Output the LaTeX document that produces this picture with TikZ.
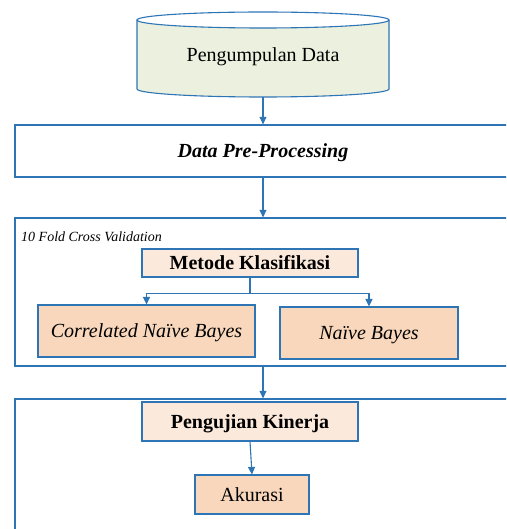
\documentclass[tikz,border=0pt]{standalone}
\usepackage{fontspec}
\setmainfont{Liberation Serif}
\usetikzlibrary{arrows.meta}
\definecolor{lineblue}{HTML}{2E75B6}
\definecolor{cylfill}{HTML}{EBF1DE}
\definecolor{lightpeach}{HTML}{FBE9DB}
\definecolor{peach}{HTML}{F8D7BC}
\tikzset{
  frame/.style={draw=lineblue, line width=1.3pt, minimum width=496pt, inner sep=0pt},
  lightbox/.style={draw=lineblue, line width=1.1pt, fill=lightpeach, inner sep=0pt},
  darkbox/.style={draw=lineblue, line width=1.1pt, fill=peach, inner sep=0pt},
  conn/.style={draw=lineblue, line width=1.1pt, -{Triangle[width=7pt,length=7.5pt]}},
  big/.style={font=\fontsize{20}{24}\selectfont, text height=13pt, text depth=0pt},
}
\begin{document}
\begin{tikzpicture}[x=1pt,y=-1pt]
\useasboundingbox (0,0) rectangle (506,529);
\clip (0,0) rectangle (506,529);
% cylinder
\fill[cylfill] (137,20) -- (137,89) arc[start angle=180,end angle=360,x radius=126,y radius=-8] -- (389,20) arc[start angle=0,end angle=180,x radius=126,y radius=8] -- cycle;
\draw[lineblue, line width=1.1pt] (137,20) -- (137,89) arc[start angle=180,end angle=360,x radius=126,y radius=-8] -- (389,20);
\draw[lineblue, line width=1.1pt] (263,20) ellipse[x radius=126, y radius=8];
\node[big, minimum width=252pt, minimum height=85pt, inner sep=0pt, yshift=-0.5pt] (dbtext) at (263,54.5) {Pengumpulan Data};
\node[minimum width=252pt, minimum height=85pt, inner sep=0pt] (db) at (263,54.5) {};
% frames
\node[frame, minimum height=52pt, big, font=\fontsize{20}{24}\selectfont\bfseries\itshape] (pre) at (263,151) {Data Pre-Processing};
\node[frame, minimum height=148pt] (cv) at (263,292) {};
\node[frame, minimum height=141pt] (test) at (263,469.5) {};
\node[anchor=west, inner sep=0pt, font=\fontsize{14}{16}\selectfont\itshape] (cvlabel) at (21,237) {10 Fold Cross Validation};
% inner boxes
\node[lightbox, big, font=\fontsize{20}{24}\selectfont\bfseries, minimum width=216pt, minimum height=28pt] (met) at (250,263) {Metode Klasifikasi};
\node[darkbox, big, font=\fontsize{20}{24}\selectfont\itshape, minimum width=217pt, minimum height=52pt] (cnb) at (146.5,331) {Correlated Naïve Bayes};
\node[darkbox, big, font=\fontsize{20}{24}\selectfont\itshape, minimum width=178pt, minimum height=52pt] (nb) at (369,333) {Naïve Bayes};
\node[lightbox, big, font=\fontsize{20}{24}\selectfont\bfseries, minimum width=216pt, minimum height=39pt] (pk) at (250,421.5) {Pengujian Kinerja};
\node[darkbox, big, minimum width=114pt, minimum height=39pt] (ak) at (252,494.5) {Akurasi};
% connectors
\draw[conn] (db.south) -- (db.south |- pre.north);
\draw[conn] (db.south |- pre.south) -- (db.south |- cv.north);
\draw[conn] (db.south |- cv.south) -- (db.south |- test.north);
\draw[lineblue, line width=1.1pt] (met.south) -- ++(0,16) coordinate (sp);
\draw[conn] (sp) -| (cnb.north);
\draw[conn] (sp) -| (nb.north);
\draw[conn] (pk.south) -- (ak.north);
\end{tikzpicture}
\end{document}
